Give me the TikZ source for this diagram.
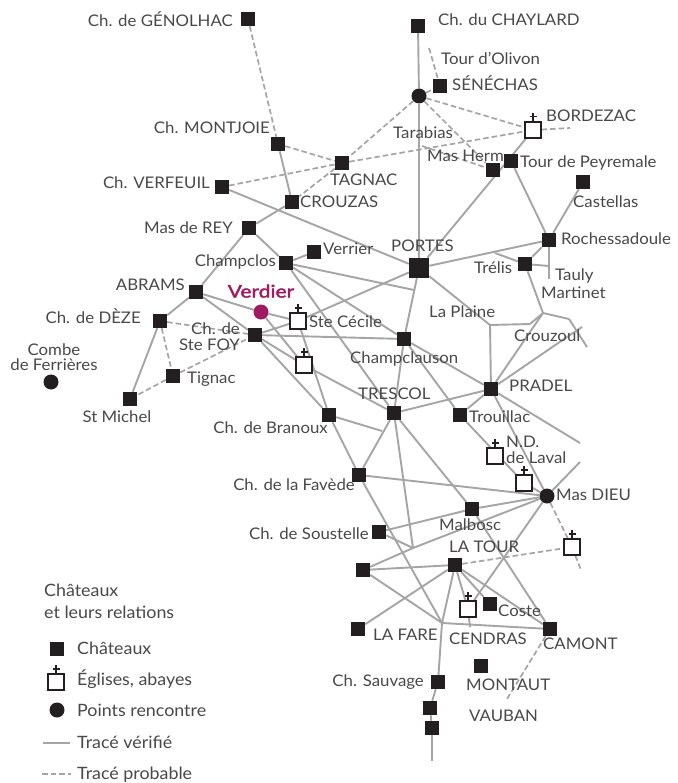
\documentclass[tikz,border=0pt]{standalone}
\usepackage{fontspec}
\setmainfont[FakeStretch=1.05]{Lato}
\newfontfamily\verdfont[FakeStretch=1.2,FakeBold=2.2]{Lato}
\usetikzlibrary{backgrounds}
\definecolor{ink}{HTML}{231F20}
\definecolor{txt}{HTML}{4A4849}
\definecolor{trace}{HTML}{A6A5A6}
\definecolor{verd}{HTML}{A01A62}
\tikzset{
  chateau/.style={fill=ink,draw=none,rectangle,minimum size=14,inner sep=0},
  bigchateau/.style={chateau,minimum size=20},
  eglise/.style={fill=white,draw=ink,line width=1.2,rectangle,minimum size=16,inner sep=0},
  rencontre/.style={fill=ink,draw=none,circle,minimum size=15,inner sep=0},
  lieu/.style={text=txt,font=\fontsize{16}{18}\selectfont,inner sep=0,yshift=-3pt},
  lw/.style={lieu,anchor=mid west},
  le/.style={lieu,anchor=mid east},
  lc/.style={lieu,anchor=mid},
  lg/.style={lw,font=\fontsize{17}{18}\selectfont},
  verifie/.style={draw=trace,line width=1.9},
  probable/.style={draw=trace,line width=1.7,dash pattern=on 5.5pt off 3pt},
  croix/.style={draw=ink,line width=1.2}
}
\newcommand{\eglisenode}[3]{%
  \node[eglise] (#1) at (#2,#3) {};
  \draw[croix] (#1.north) -- ++(0,-8) (#1.north) ++(-3.5,-4.5) -- ++(7,0);}
\begin{document}
\begin{tikzpicture}[x=1pt,y=-1pt]
\useasboundingbox (0,0) rectangle (677,783);
% nodes: chateaux
\foreach \n/\x/\y in {genolhac/248/19,chaylard/418/26,senechas/440/86,tagnac/342/163,montjoie/278/144,
 masherm/493/170,peyremale/511/161,castellas/583/182,verfeuil/222/187,crouzas/292/202,masrey/249/228,
 rochess/549/240,verrier/314/252,champclos/286/263,trelis/525/264,abrams/196/292,deze/160/321,
 stefoy/255/335,tignac/173/376,stmichel/130/399,branoux/329/415,champclauson/404/339,pradel/491/389,
 trescol/394/413,trouillac/460/415,favede/359/475,malbosc/472/509,soustelle/379/532,latour/455/565,
 sansnom/363/570,coste/490/604,lafare/358/629,camont/550/629,montaut/481/666,sauvage/438/682,
 sudA/430/708,sudB/432/728}{\node[chateau] (\n) at (\x,\y) {};}
\node[bigchateau] (portes) at (419,268) {};
% eglises
\eglisenode{bordezac}{533}{130}
\eglisenode{stececile}{298}{321}
\eglisenode{eglisedeux}{304}{365}
\eglisenode{laval}{495}{456}
\eglisenode{eglisequatre}{524}{483}
\eglisenode{egliseest}{572}{547}
\eglisenode{cendras}{468}{609}
% rencontres
\node[rencontre] (senpt) at (419,96) {};
\node[rencontre] (masdieu) at (547,496) {};
\node[rencontre] (combe) at (51,382) {};
\node[rencontre,fill=verd] (verdier) at (261,312) {};
% free ends and junctions
\foreach \n/\x/\y in {olivon/429/48,borde/570/128,tarab/422/146,trelisA/495/253,trelisB/549/266,rochB/549/279,
 jA/543/313,jAb/530/324,jB/490/325,jC/569/319,jCb/587/347,crA/567/337,crB/582/327,portesB/414/290,
 mdA/580/462,prA/580/443,jT/382/431,jS/413/548,jF/442/623,fin/432/761,vauban/507/699,estfin/581/570,cendB/470/627}{\coordinate (\n) at (\x,\y);}
% labels
\node[le] (lgenolhac) at (233,21) {Ch. de GÉNOLHAC};
\node[lw] (lchaylard) at (438,20) {Ch. du CHAYLARD};
\node[lw] (lolivon) at (441,59) {Tour d’Olivon};
\node[lw] (lsenechas) at (452,85) {SÉNÉCHAS};
\node[lw] (lbordezac) at (546,116) {BORDEZAC};
\node[lw] (ltarabias) at (393,133) {Tarabias};
\node[lw] (lmasherm) at (427,156) {Mas Herm};
\node[lw] (lpeyremale) at (520,162) {Tour de Peyremale};
\node[lw] (lcastellas) at (573,202) {Castellas};
\node[le] (lmontjoie) at (270,128) {Ch. MONTJOIE};
\node[lw] (ltagnac) at (330,180) {TAGNAC};
\node[le] (lverfeuil) at (210,183) {Ch. VERFEUIL};
\node[lw] (lcrouzas) at (300,202) {CROUZAS};
\node[le] (lmasrey) at (233,228) {Mas de REY};
\node[lw] (lrochess) at (561,239) {Rochessadoule};
\node[lw] (lportes) at (391,246) {PORTES};
\node[lw] (lverrier) at (323,249) {Verrier};
\node[le] (lchampclos) at (276,261) {Champclos};
\node[lw] (ltrelis) at (474,268) {Trélis};
\node[lw] (ltauly) at (555,275) {Tauly};
\node[lw] (lmartinet) at (541,293) {Martinet};
\node[le] (labrams) at (185,285) {ABRAMS};
\node[lc,text=verd,font=\fontsize{17.5}{18}\verdfont] (lverdier) at (261,292) {Verdier};
\node[le] (ldeze) at (141,318) {Ch. de DÈZE};
\node[le] (lstefoyA) at (240,329) {Ch. de};
\node[le] (lstefoyB) at (240,345) {Ste FOY};
\node[lw] (lstececile) at (309,322) {Ste Cécile};
\node[lw] (lplaine) at (429,312) {La Plaine};
\node[lw] (lcrouzoul) at (514,336) {Crouzoul};
\node[lw] (lchampclauson) at (350,358) {Champclauson};
\node[lw] (lpradel) at (509,386) {PRADEL};
\node[lw] (ltrescol) at (358,394) {TRESCOL};
\node[lc] (lcombeA) at (54,350) {Combe};
\node[lc] (lcombeB) at (54,365) {de Ferrières};
\node[lw] (ltignac) at (187,378) {Tignac};
\node[lc] (lstmichel) at (117,417) {St Michel};
\node[le] (lbranoux) at (328,428) {Ch. de Branoux};
\node[lw] (ltrouillac) at (469,417) {Trouillac};
\node[lw] (lndA) at (506,442) {N.D.};
\node[lw] (lndB) at (506,458) {de Laval};
\node[le] (lfavede) at (355,485) {Ch. de la Favède};
\node[lw] (lmasdieu) at (556,495) {Mas DIEU};
\node[lw] (lmalbosc) at (439,525) {Malbosc};
\node[le] (lsoustelle) at (369,534) {Ch. de Soustelle};
\node[lw] (llatour) at (449,547) {LA TOUR};
\node[lw] (lcoste) at (498,611) {Coste};
\node[lw] (llafare) at (373,635) {LA FARE};
\node[lw] (lcendras) at (449,639) {CENDRAS};
\node[lw] (lcamont) at (543,644) {CAMONT};
\node[le] (lsauvage) at (424,681) {Ch. Sauvage};
\node[lw] (lmontaut) at (466,685) {MONTAUT};
\node[lw] (lvauban) at (469,716) {VAUBAN};
% legend
\node[lg] (legA) at (44,591) {Châteaux};
\node[lg] (legB) at (44,613) {et leurs relations};
\node[chateau] (legcha) at (57,649) {};
\node[lg] (legchat) at (77,649) {Châteaux};
\eglisenode{legegl}{56}{682}
\node[lg] (legeglt) at (77,680) {Églises, abayes};
\node[rencontre] (legren) at (57,710) {};
\node[lg] (legrent) at (77,711) {Points rencontre};
\coordinate (legvA) at (43,743); \coordinate (legvB) at (70,743);
\coordinate (legpA) at (42,774); \coordinate (legpB) at (71,774);
\node[lg] (legvt) at (77,743) {Tracé vérifié};
\node[lg] (legpt) at (77,774) {Tracé probable};
% connectors
\begin{scope}[on background layer]
\fill[white] (0,0) rectangle (677,783);
\draw[verifie] (legvA) -- (legvB);
\draw[probable] (legpA) -- (legpB);
\foreach \a/\b in {chaylard/senpt,senpt/portes,montjoie/crouzas,verfeuil/portes,masrey/crouzas,masrey/abrams,
 masrey/champclos,abrams/deze,champclos/verrier,bordezac/portes,peyremale/rochess,castellas/rochess,
 rochess/portes,rochess/trelis,trelisA/trelis,trelis/trelisB,rochess/rochB,trelis/jA,jA/jAb,jAb/jB,
 portes/jB,jB/pradel,jA/pradel,jA/jC,jC/jCb,pradel/crA,crA/crB,portes/champclauson,champclauson/trescol,
 champclos/portesB,champclos/champclauson,champclos/trescol,abrams/stefoy,stefoy/champclauson,
 stefoy/eglisedeux,eglisedeux/trescol,stefoy/branoux,stefoy/stececile,stececile/portes,abrams/verdier,
 verdier/stececile,verdier/eglisedeux,stececile/branoux,branoux/favede,branoux/jT,deze/stmichel,
 champclauson/pradel,champclauson/trouillac,pradel/trescol,pradel/trouillac,pradel/masdieu,pradel/prA,
 masdieu/mdA,trouillac/eglisequatre,eglisequatre/masdieu,trescol/favede,trescol/jS,trescol/malbosc,
 malbosc/camont,malbosc/masdieu,malbosc/soustelle,soustelle/jS,jS/sansnom,jS/masdieu,favede/masdieu,
 favede/jF,masdieu/cendras,cendras/cendB,latour/sansnom,latour/lafare,latour/jF,latour/cendras,latour/coste,
 latour/camont,sansnom/jF,jF/camont,jF/sauvage,sauvage/sudA,sudA/sudB,sudB/fin}{\draw[verifie] (\a) -- (\b);}
\foreach \a/\b in {senpt/senechas,olivon/senechas,senpt/bordezac,senpt/masherm,senpt/tagnac,genolhac/montjoie,
 montjoie/tagnac,tagnac/crouzas,verfeuil/tagnac,tagnac/bordezac,bordezac/borde,tarab/masherm,deze/stefoy,
 deze/tignac,tignac/stmichel,tignac/stefoy,latour/egliseest,masdieu/egliseest,egliseest/estfin,camont/vauban}{\draw[probable] (\a) -- (\b);}
\end{scope}
\end{tikzpicture}
\end{document}
